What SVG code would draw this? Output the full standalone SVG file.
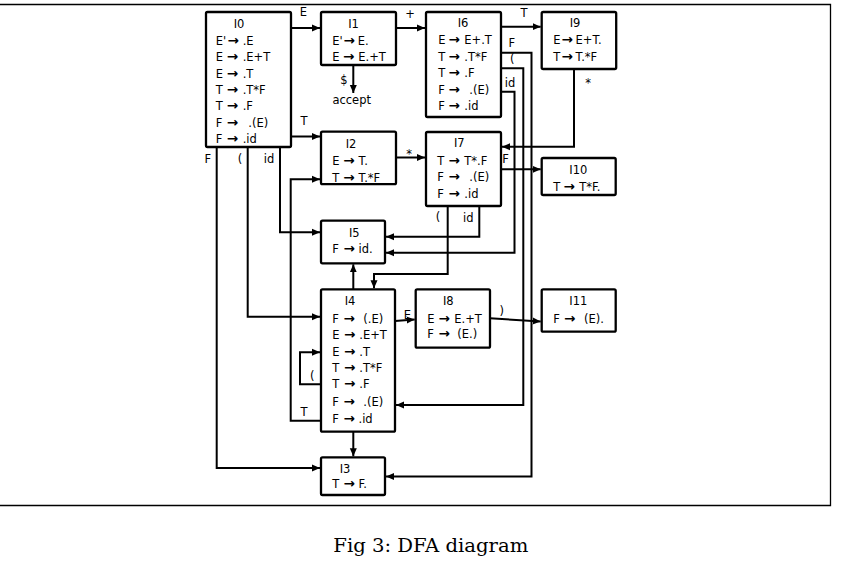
<svg xmlns="http://www.w3.org/2000/svg" width="861" height="571" viewBox="0 0 861 571">
<style>
text{font-family:"DejaVu Sans","Liberation Sans",sans-serif;font-size:11.5px;fill:#000}
.ar{font-weight:bold;font-size:13.5px}
.t{text-anchor:middle}
.box{fill:#fff;stroke:#000;stroke-width:2.3}
.c{fill:none;stroke:#000;stroke-width:2}
.cap{font-family:"DejaVu Serif","Liberation Serif",serif;font-size:18px}
</style>
<defs>
<marker id="ah" markerUnits="userSpaceOnUse" markerWidth="9" markerHeight="9" refX="8" refY="4" orient="auto"><path d="M0,0.5 L8,4 L0,7.5 z" fill="#000"/></marker>
</defs>
<rect width="861" height="571" fill="#fff"/>
<path d="M0,4.5 H830.5 V505.5 H0" fill="none" stroke="#000" stroke-width="1.3"/>

<g id="connectors">
<path class="c" marker-end="url(#ah)" d="M291,28 H320"/>
<path class="c" marker-end="url(#ah)" d="M396,28 H425"/>
<path class="c" marker-end="url(#ah)" d="M501,26.7 H540.7"/>
<path class="c" marker-end="url(#ah)" d="M353.3,65 V93"/>
<path class="c" marker-end="url(#ah)" d="M291,136.5 H320"/>
<path class="c" marker-end="url(#ah)" d="M396,157.5 H425"/>
<path class="c" marker-end="url(#ah)" d="M574,69 V146.7 H502"/>
<path class="c" marker-end="url(#ah)" d="M501,169.3 H540.7"/>
<path class="c" marker-end="url(#ah)" d="M501,52.7 H531.5 V476.5 H386"/>
<path class="c" marker-end="url(#ah)" d="M501,68.3 H523.3 V405 H396"/>
<path class="c" marker-end="url(#ah)" d="M501,91.7 H514.5 V252.7 H386"/>
<path class="c" marker-end="url(#ah)" d="M447.7,206 V274 H374 V288.3"/>
<path class="c" marker-end="url(#ah)" d="M479.3,206 V236.7 H386"/>
<path class="c" marker-end="url(#ah)" d="M216.7,147 V468 H320"/>
<path class="c" marker-end="url(#ah)" d="M247.7,147 V316.7 H320"/>
<path class="c" marker-end="url(#ah)" d="M280,147 V232.3 H320"/>
<path class="c" marker-end="url(#ah)" d="M321,420.7 H290.7 V179.3 H320"/>
<path class="c" marker-end="url(#ah)" d="M321,384.3 H300 V352.3 H320"/>
<path class="c" marker-end="url(#ah)" d="M353.3,289.3 V264.3"/>
<path class="c" marker-end="url(#ah)" d="M353.3,431.7 V456.3"/>
<path class="c" marker-end="url(#ah)" d="M395,321 L414.7,319.4"/>
<path class="c" marker-end="url(#ah)" d="M490,318.3 L540.7,321.6"/>
<text class="t" x="303.3" y="16">E</text>
<text class="t" x="410" y="18">+</text>
<text class="t" x="524" y="16.5">T</text>
<text class="t" x="344" y="83.5">$</text>
<text class="t" x="351.7" y="104">accept</text>
<text class="t" x="304" y="125">T</text>
<text class="t" x="409" y="158">*</text>
<text class="t" x="588" y="87">*</text>
<text class="t" x="505.5" y="163.3">F</text>
<text class="t" x="511.7" y="46.7">F</text>
<text class="t" x="512.3" y="62.5">(</text>
<text class="t" x="510" y="86.7">id</text>
<text class="t" x="438" y="221">(</text>
<text class="t" x="468.3" y="221.7">id</text>
<text class="t" x="207.7" y="163.3">F</text>
<text class="t" x="240" y="163">(</text>
<text class="t" x="269" y="163">id</text>
<text class="t" x="304" y="415.7">T</text>
<text class="t" x="312.3" y="380">(</text>
<text class="t" x="407.3" y="318.5">E</text>
<text class="t" x="501.7" y="315">)</text>
</g>

<g id="I0">
<rect class="box" x="206" y="12" width="85" height="135" rx="1.5"/>
<text class="t" x="239" y="28">I0</text>
<text x="215.7" y="45">E'<tspan class="ar" x="227.5">→</tspan><tspan x="242.7">.E</tspan></text>
<text x="215.7" y="61.3">E<tspan class="ar" x="226.7">→</tspan><tspan x="242.7">.E+T</tspan></text>
<text x="215.7" y="77.6">E<tspan class="ar" x="226.7">→</tspan><tspan x="242.7">.T</tspan></text>
<text x="215.7" y="93.9">T<tspan class="ar" x="226.7">→</tspan><tspan x="242.7">.T*F</tspan></text>
<text x="215.7" y="110.2">T<tspan class="ar" x="226.7">→</tspan><tspan x="242.7">.F</tspan></text>
<text x="215.7" y="126.5">F<tspan class="ar" x="226.7">→</tspan><tspan x="248.3">.(E)</tspan></text>
<text x="215.7" y="142.8">F<tspan class="ar" x="226.7">→</tspan><tspan x="242.7">.id</tspan></text>
</g>

<g id="I1">
<rect class="box" x="321" y="12" width="75" height="53" rx="1.5"/>
<text class="t" x="353.5" y="28">I1</text>
<text x="332.3" y="45">E'<tspan class="ar" x="343.5">→</tspan><tspan x="357.7">E.</tspan></text>
<text x="332.3" y="61">E<tspan class="ar" x="343">→</tspan><tspan x="358.3">E.+T</tspan></text>
</g>

<g id="I6">
<rect class="box" x="426" y="12" width="75" height="105" rx="1.5"/>
<text class="t" x="463" y="27">I6</text>
<text x="438.3" y="43.5">E<tspan class="ar" x="448.5">→</tspan><tspan x="464.3">E+.T</tspan></text>
<text x="438.3" y="60.5">T<tspan class="ar" x="448.5">→</tspan><tspan x="464.3">.T*F</tspan></text>
<text x="438.3" y="77">T<tspan class="ar" x="448.5">→</tspan><tspan x="464.3">.F</tspan></text>
<text x="438.3" y="93.5">F<tspan class="ar" x="448.5">→</tspan><tspan x="469.3">.(E)</tspan></text>
<text x="438.3" y="110">F<tspan class="ar" x="448.5">→</tspan><tspan x="464.3">.id</tspan></text>
</g>

<g id="I9">
<rect class="box" x="541.7" y="12" width="74.5" height="57" rx="1.5"/>
<text class="t" x="575" y="27">I9</text>
<text x="553.3" y="43.5">E<tspan class="ar" x="561.5">→</tspan><tspan x="575.5">E+T.</tspan></text>
<text x="553.3" y="60.5">T<tspan class="ar" x="561.5">→</tspan><tspan x="575.5">T.*F</tspan></text>
</g>

<g id="I2">
<rect class="box" x="321" y="131.7" width="75" height="52.5" rx="1.5"/>
<text class="t" x="351" y="147.7">I2</text>
<text x="332.3" y="165">E<tspan class="ar" x="343.2">→</tspan><tspan x="358.5">T.</tspan></text>
<text x="332.3" y="181.5">T<tspan class="ar" x="343.2">→</tspan><tspan x="358.5">T.*F</tspan></text>
</g>

<g id="I7">
<rect class="box" x="426" y="132" width="75" height="74" rx="1.5"/>
<text class="t" x="459.3" y="147.3">I7</text>
<text x="437.3" y="165">T<tspan class="ar" x="448.5">→</tspan><tspan x="464.3">T*.F</tspan></text>
<text x="437.3" y="181.3">F<tspan class="ar" x="448.5">→</tspan><tspan x="469.3">.(E)</tspan></text>
<text x="437.3" y="197.7">F<tspan class="ar" x="448.5">→</tspan><tspan x="464.3">.id</tspan></text>
</g>

<g id="I10">
<rect class="box" x="541.7" y="158" width="74" height="37" rx="1.5"/>
<text class="t" x="578.3" y="174">I10</text>
<text x="553.3" y="191">T<tspan class="ar" x="563.5">→</tspan><tspan x="579.3">T*F.</tspan></text>
</g>

<g id="I5">
<rect class="box" x="321" y="220.7" width="64" height="42.6" rx="1.5"/>
<text class="t" x="354.3" y="237.3">I5</text>
<text x="332.3" y="253.3">F<tspan class="ar" x="343.5">→</tspan><tspan x="358.5">id.</tspan></text>
</g>

<g id="I4">
<rect class="box" x="321" y="289.3" width="74" height="142.4" rx="1.5"/>
<text class="t" x="350" y="305">I4</text>
<text x="332.3" y="322.7">F<tspan class="ar" x="343.5">→</tspan><tspan x="363.3">(.E)</tspan></text>
<text x="332.3" y="339.3">E<tspan class="ar" x="344">→</tspan><tspan x="359.3">.E+T</tspan></text>
<text x="332.3" y="356">E<tspan class="ar" x="344">→</tspan><tspan x="359.3">.T</tspan></text>
<text x="332.3" y="371.7">T<tspan class="ar" x="344">→</tspan><tspan x="359.3">.T*F</tspan></text>
<text x="332.3" y="388.3">T<tspan class="ar" x="344">→</tspan><tspan x="359.3">.F</tspan></text>
<text x="332.3" y="406">F<tspan class="ar" x="343.5">→</tspan><tspan x="363.3">.(E)</tspan></text>
<text x="332.3" y="422.7">F<tspan class="ar" x="343.5">→</tspan><tspan x="358.5">.id</tspan></text>
</g>

<g id="I8">
<rect class="box" x="415.7" y="289.3" width="74.3" height="58.4" rx="1.5"/>
<text class="t" x="448.3" y="305">I8</text>
<text x="427.3" y="322.7">E<tspan class="ar" x="438.5">→</tspan><tspan x="454.3">E.+T</tspan></text>
<text x="427.3" y="338.3">F<tspan class="ar" x="438.5">→</tspan><tspan x="457.3">(E.)</tspan></text>
</g>

<g id="I11">
<rect class="box" x="541.7" y="289.3" width="74" height="42.4" rx="1.5"/>
<text class="t" x="578.3" y="305">I11</text>
<text x="553.3" y="322.7">F<tspan class="ar" x="564">→</tspan><tspan x="584">(E).</tspan></text>
</g>

<g id="I3">
<rect class="box" x="321" y="457.3" width="64" height="37.7" rx="1.5"/>
<text class="t" x="345" y="472.7">I3</text>
<text x="332.3" y="488.3">T<tspan class="ar" x="343.5">→</tspan><tspan x="358.5">F.</tspan></text>
</g>

<text class="cap" x="333.3" y="551.7" textLength="195" lengthAdjust="spacingAndGlyphs">Fig 3: DFA diagram</text>
</svg>
